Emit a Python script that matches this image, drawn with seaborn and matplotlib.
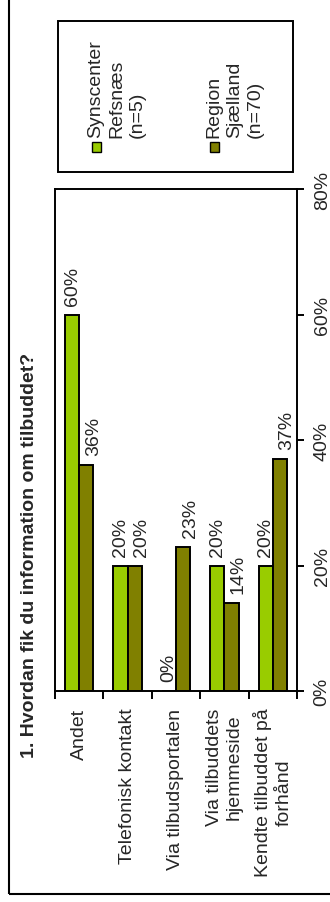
import numpy as np
import pandas as pd
import matplotlib
matplotlib.use("Agg")
import matplotlib.pyplot as plt
from matplotlib.patches import Rectangle
import seaborn as sns

# ====================== DATA ======================
categories = ["Andet", "Telefonisk kontakt", "Via tilbudsportalen",
              "Via tilbuddets\nhjemmeside", "Kendte tilbuddet på\nforhånd"]
groups = ["Synscenter\nRefsnæs\n(n=5)", "Region\nSjælland\n(n=70)"]
synscenter = [60, 20, 0, 20, 20]
region = [36, 20, 23, 14, 37]
colors = ["#99CC00", "#808000"]
y_ticks = [0, 20, 40, 60, 80]
title = "1. Hvordan fik du information om tilbuddet?"

df = pd.DataFrame({
    "cat": categories * 2,
    "group": [groups[0]] * len(categories) + [groups[1]] * len(categories),
    "val": synscenter + region,
})

sns.set_style("white")
plt.rcParams['font.family'] = ['Liberation Sans', 'DejaVu Sans']

W, H = 330, 903
fig = plt.figure(figsize=(W / 100, H / 100), dpi=100)


def fx(x):
    return x / W


def fy(y):
    return (H - y) / H


# plot area (pixels: x 55-297, y 190-692)
ax = fig.add_axes([fx(55), fy(692), fx(297) - fx(55), fy(190) - fy(692)])

sns.barplot(data=df, x="cat", y="val", hue="group", order=categories,
            hue_order=groups, palette=colors, saturation=1, width=0.585,
            edgecolor="black", linewidth=1.4, legend=False, ax=ax)

# value labels above bars
for i, cont in enumerate(ax.containers):
    dx = 0 if i == 0 else 5
    for bar in cont:
        h = bar.get_height()
        ax.annotate(f"{h:.0f}%", (bar.get_x() + bar.get_width() / 2, h),
                    xytext=(dx, 7), textcoords="offset points",
                    rotation=90, ha="center", va="bottom", fontsize=14)

ax.set_xlim(-0.5, len(categories) - 0.5)
ax.set_ylim(y_ticks[0], y_ticks[-1])
ax.set_xlabel("")
ax.set_ylabel("")

# x axis: labels at centres, tick marks between categories
ax.set_xticks(range(len(categories)))
ax.set_xticklabels(categories, rotation=90, ha="center", va="top",
                   multialignment="center", linespacing=1.25, fontsize=14)
ax.set_xticks(np.arange(-0.5, len(categories), 1), minor=True)
ax.tick_params(axis="x", which="major", length=0, pad=12, bottom=True)
ax.tick_params(axis="x", which="minor", length=6, width=1.4,
               direction="out", bottom=True, color="black")

# y axis on the right
ax.yaxis.tick_right()
ax.set_yticks(y_ticks)
ax.set_yticklabels([f"{t}%" for t in y_ticks], fontsize=14)
ax.tick_params(axis="y", length=5, width=1.4, direction="out", pad=7,
               right=True, left=False, labelright=True, labelleft=False,
               labelrotation=90, color="black")
for t in ax.get_yticklabels():
    t.set_va("center")

for s in ax.spines.values():
    s.set_visible(True)
    s.set_color("black")
    s.set_linewidth(1.4)

# title (rotated)
fig.text(fx(30), fy(555), title, rotation=90, ha="center", va="center",
         fontsize=14, fontweight="bold")

# legend box (rotated, drawn by hand)
fig.patches.append(Rectangle((fx(58), fy(173)), fx(293) - fx(58), fy(22) - fy(173),
                             transform=fig.transFigure, fill=False,
                             edgecolor="black", lw=1.4))
leg_x = [92, 210]
for i, g in enumerate(groups):
    fig.patches.append(Rectangle((fx(leg_x[i]), fy(153)), fx(9), 10 / H,
                                 transform=fig.transFigure, facecolor=colors[i],
                                 edgecolor="black", lw=1))
    fig.text(fx(leg_x[i] - 5), fy(138), g, rotation=90, ha="left", va="bottom",
             multialignment="left", linespacing=1.3, fontsize=14)

# outer border
fig.patches.append(Rectangle((fx(9), 8 / H), 1.2, 1.2, transform=fig.transFigure,
                             fill=False, edgecolor="black", lw=1.5))

fig.savefig("out.png", dpi=100)
